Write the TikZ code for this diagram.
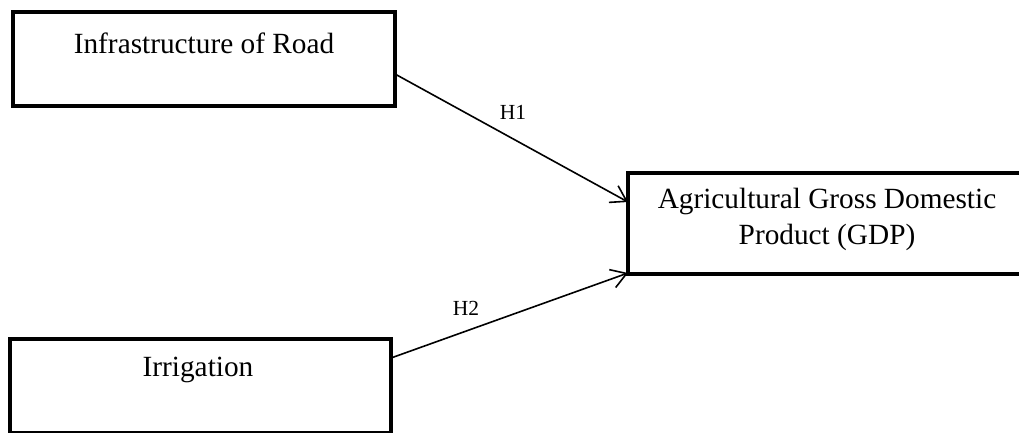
\documentclass[tikz,border=0pt]{standalone}
\usepackage{fontspec}
\setmainfont{Liberation Serif}
\usetikzlibrary{arrows.meta,calc}
\tikzset{
  box/.style={draw=black, line width=4pt, outer sep=0pt, inner sep=0pt, fill=white},
  boxtext/.style={font=\fontsize{29.3}{36}\selectfont, anchor=base, inner sep=0pt, align=center},
  hyplabel/.style={font=\fontsize{21.5}{24}\selectfont, anchor=base, inner sep=0pt},
  link/.style={draw=black, line width=1.6pt, -{Straight Barb[length=15pt,width=19pt,line width=1.6pt]}}
}
\begin{document}
\begin{tikzpicture}[x=1pt,y=-1pt]
\useasboundingbox (0,0) rectangle (1019,432);
\clip (0,0) rectangle (1019,432);
\node[box, minimum width=382pt, minimum height=94pt] (road) at (204,59) {};
\node[box, minimum width=381pt, minimum height=94pt] (irr) at (200.5,386) {};
\node[box, minimum width=402pt, minimum height=101pt] (gdp) at (829,223.5) {};
\node[boxtext] (roadtxt) at (204,53) {Infrastructure of Road};
\node[boxtext] (irrtxt) at (198,376) {Irrigation};
\node[boxtext] (gdptxt1) at (827,208) {Agricultural Gross Domestic};
\node[boxtext] (gdptxt2) at (827,244) {Product (GDP)};
\draw[link] ($(road.south east)+(0,-32)$) -- ($(gdp.north west)+(0,29)$);
\draw[link] ($(irr.north east)+(0,19)$) -- ($(gdp.south west)+(0,-1)$);
\node[hyplabel] (h1) at (513,119) {H1};
\node[hyplabel] (h2) at (466,315) {H2};
\end{tikzpicture}
\end{document}
